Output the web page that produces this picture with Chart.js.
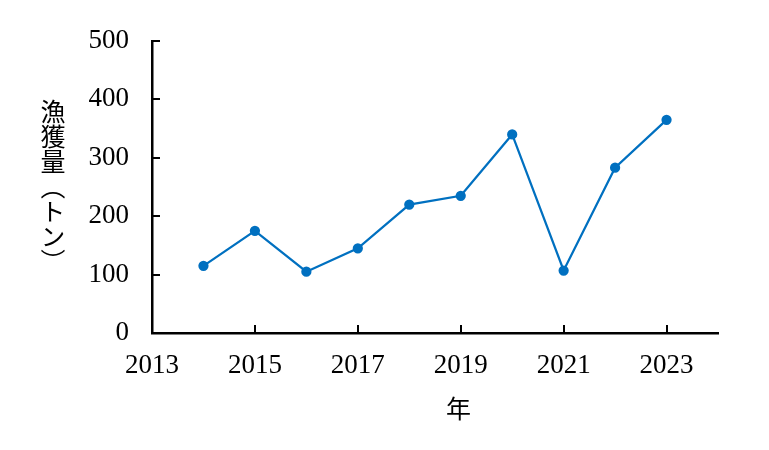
<!DOCTYPE html>
<html>
<head>
<meta charset="utf-8">
<script src="https://cdn.jsdelivr.net/npm/chart.js@4"></script>
<style>
  body { margin: 0; background: #fff; }
  #wrap { position: relative; width: 769px; height: 450px; }
  .jp { position: absolute; font-family: "Noto Sans CJK JP", sans-serif; font-size: 25px; color: #000; }
  #ytitle { left: 38px; top: 99px; writing-mode: vertical-rl; line-height: 30px; }
  #xtitle { left: 446px; top: 390px; line-height: 34px; }
</style>
</head>
<body>
<div id="wrap">
  <canvas id="fishChart" width="769" height="450"></canvas>
  <div id="ytitle" class="jp">漁獲量（トン）</div>
  <div id="xtitle" class="jp">年</div>
</div>
<script>
// 漁獲量データ
const anni = [2014, 2015, 2016, 2017, 2018, 2019, 2020, 2021, 2022, 2023];
const catture = [115, 175, 105, 145, 220, 235, 340, 107, 283, 365];
const xTicks = [2013, 2015, 2017, 2019, 2021, 2023];
const yTicks = [0, 100, 200, 300, 400, 500];

const serif = { family: "'Liberation Serif', serif", size: 27 };

// tacche verso l'interno
const tickInside = {
  id: 'tickInside',
  afterDraw(chart) {
    const ctx = chart.ctx;
    const x = chart.scales.x, y = chart.scales.y;
    ctx.save();
    ctx.strokeStyle = '#000';
    ctx.lineWidth = 2;
    ctx.beginPath();
    xTicks.forEach(v => {
      const px = Math.round(x.getPixelForValue(v));
      ctx.moveTo(px, x.top);
      ctx.lineTo(px, x.top - 8);
    });
    yTicks.forEach(v => {
      const py = Math.round(y.getPixelForValue(v));
      ctx.moveTo(y.right, py);
      ctx.lineTo(y.right + 8, py);
    });
    ctx.stroke();
    ctx.restore();
  }
};

new Chart(document.getElementById('fishChart').getContext('2d'), {
  type: 'line',
  data: {
    datasets: [{
      data: anni.map((a, i) => ({ x: a, y: catture[i] })),
      borderColor: '#0070C0',
      backgroundColor: '#0070C0',
      borderWidth: 2.25,
      pointRadius: 4,
      pointHoverRadius: 4,
      tension: 0
    }]
  },
  options: {
    responsive: false,
    animation: false,
    layout: { padding: { top: 41, right: 51, bottom: 0, left: 0 } },
    plugins: { legend: { display: false }, tooltip: { enabled: false } },
    scales: {
      x: {
        type: 'linear',
        min: 2013,
        max: 2024,
        afterBuildTicks: s => { s.ticks = xTicks.map(v => ({ value: v })); },
        afterFit: s => { s.height = 117; },
        grid: { display: false },
        border: { display: true, color: '#000', width: 2.5 },
        ticks: { color: '#000', font: serif, padding: 9, maxRotation: 0, callback: v => String(v) }
      },
      y: {
        min: 0,
        max: 500,
        afterBuildTicks: s => { s.ticks = yTicks.map(v => ({ value: v })); },
        afterFit: s => { s.width = 152; },
        grid: { display: false },
        border: { display: true, color: '#000', width: 2.5 },
        ticks: { color: '#000', font: serif, padding: 15 }
      }
    }
  },
  plugins: [tickInside]
});
</script>
</body>
</html>
